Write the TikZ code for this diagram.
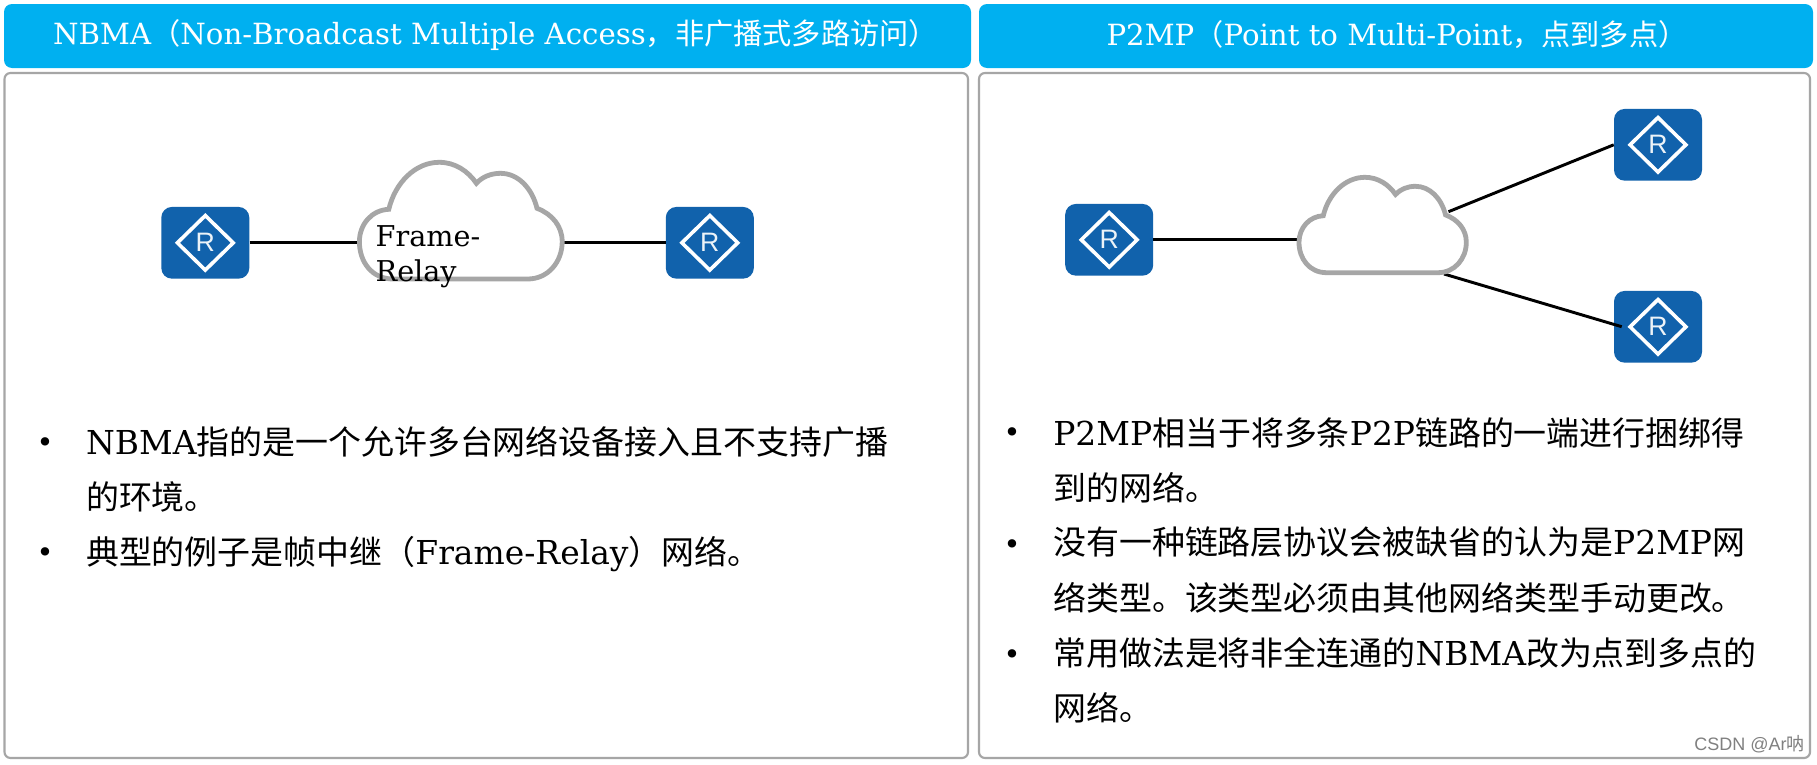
\documentclass[tikz,border=0pt]{standalone}
\usepackage{fontspec}
\usetikzlibrary{shapes.geometric}
\setmainfont{DejaVu Serif}
\newfontfamily\cjk{Noto Sans CJK SC}
\newfontfamily\rfont{Liberation Sans}
\definecolor{hdr}{HTML}{00B0F0}
\definecolor{rblue}{HTML}{1162AC}
\definecolor{pgray}{HTML}{A6A6A6}
\tikzset{
  header/.style={fill=hdr,draw=none,rounded corners=6pt},
  panel/.style={draw=pgray,line width=1.6pt,fill=white,rounded corners=4.5pt},
  hdrtext/.style={text=white,font=\fontsize{21.9}{26}\selectfont,anchor=center,inner sep=0pt},
  body/.style={text=black,font=\fontsize{24.7}{30}\selectfont,anchor=base west,inner sep=0pt},
  cloudlabel/.style={text=black,font=\fontsize{21.5}{26}\selectfont,anchor=base west,inner sep=0pt},
  bulletmark/.style={text=black,font=\fontsize{21.5}{26}\selectfont,anchor=base,inner sep=0pt},
  rbox/.style={fill=rblue,draw=none,rounded corners=8pt,minimum width=66pt,minimum height=53.8pt,inner sep=0pt},
  rdiam/.style={diamond,draw=white,line width=2.7pt,minimum width=43pt,minimum height=42pt,inner sep=0pt,text=white!92!rblue,font=\rfont\fontsize{20}{20}\selectfont},
  link/.style={draw=black,line width=2.2pt},
  cloudline/.style={draw=pgray,line width=3.6pt,fill=white},
}
\newcommand{\routerat}[3]{\node[rbox] (#1) at (#2,#3) {};\node[rdiam] (#1d) at (#1) {R};}
\newcommand{\cloudat}[4]{\draw[cloudline,shift={(#1,#2)},xscale=#3,yscale=#4]
 (33.6,116.7) .. controls (12.6,116.7) and (0,99.7) .. (0,79.4)
 .. controls (0,61.7) and (12.6,47.7) .. (29.4,47)
 .. controls (35.6,20.7) and (55.6,0) .. (79.9,0)
 .. controls (95.6,0) and (108.6,8.7) .. (117,21)
 .. controls (122.6,14.7) and (131.6,11) .. (141,11)
 .. controls (158.6,11) and (172.6,25.7) .. (177.6,46)
 .. controls (192.6,51.7) and (202.8,63.7) .. (202.8,79.4)
 .. controls (202.8,99.7) and (188.6,116.7) .. (168.3,116.7) -- cycle;}
\begin{document}
\begin{tikzpicture}[x=0.75pt,y=-0.75pt]
\useasboundingbox (0,0) rectangle (1817,764);
\fill[white] (0,0) rectangle (1817,764);
% headers
\draw[header] (4,4) rectangle (971,68);
\draw[header] (979,4) rectangle (1813,68);
\node[hdrtext] (h1) at (495.5,35) {NBMA{\cjk（}Non-Broadcast Multiple Access{\cjk，非广播式多路访问）}};
\node[hdrtext] (h2) at (1397,35) {P2MP{\cjk（}Point to Multi-Point{\cjk，点到多点）}};
% panels
\draw[panel] (4.5,73) rectangle (968,758);
\draw[panel] (979,73) rectangle (1810,758);
% left diagram
\routerat{ra}{205.3}{242.8}
\routerat{rb}{709.8}{242.8}
\coordinate (cw) at (359.4,242.3);
\coordinate (ce) at (562.2,242.3);
\draw[link] (ra.east |- cw) -- (cw);
\draw[link] (ce) -- (rb.west |- ce);
\cloudat{359.4}{162.3}{1}{1}
\node[cloudlabel] (fr1) at (375.4,246) {Frame-};
\node[cloudlabel] (fr2) at (375.4,281) {Relay};
% right diagram
\routerat{rc}{1109.2}{239.8}
\routerat{rd}{1658}{144.8}
\routerat{re}{1658}{326.8}
\coordinate (dw) at (1299,239.3);
\coordinate (dne) at (1448.5,211.7);
\coordinate (dse) at (1444,274);
\coordinate (reend) at (1621.7,326.7);
\draw[link] (rc.east |- dw) -- (dw);
\draw[link] (dne) -- (rd.west);
\draw[link] (dse) -- (reend);
\cloudat{1299}{177.3}{0.825}{0.8175}
% left text
\node[bulletmark] (b1) at (45,452.5) {•};
\node[body] (t1) at (85.8,454) {NBMA{\cjk 指的是一个允许多台网络设备接入且不支持广播}};
\node[body] (t2) at (85.8,509.5) {\cjk 的环境。};
\node[bulletmark] (b2) at (45,562.5) {•};
\node[body] (t3) at (85.8,564) {{\cjk 典型的例子是帧中继（}Frame-Relay{\cjk ）网络。}};
% right text
\node[bulletmark] (b3) at (1012,442.5) {•};
\node[body] (t4) at (1053,445.5) {P2MP{\cjk 相当于将多条}P2P{\cjk 链路的一端进行捆绑得}};
\node[body] (t5) at (1053,500) {\cjk 到的网络。};
\node[bulletmark] (b4) at (1012,554.5) {•};
\node[body] (t6) at (1053,554.5) {{\cjk 没有一种链路层协议会被缺省的认为是}P2MP{\cjk 网}};
\node[body] (t7) at (1053,610.5) {\cjk 络类型。该类型必须由其他网络类型手动更改。};
\node[bulletmark] (b5) at (1012,664.5) {•};
\node[body] (t8) at (1053,665) {{\cjk 常用做法是将非全连通的}NBMA{\cjk 改为点到多点的}};
\node[body] (t9) at (1053,720.5) {\cjk 网络。};
% watermark
\node[anchor=base east,inner sep=0pt,text=black!50,font=\rfont\fontsize{13.5}{16}\selectfont] (wm) at (1805,750) {CSDN @Ar{\cjk 呐}};
\end{tikzpicture}
\end{document}
